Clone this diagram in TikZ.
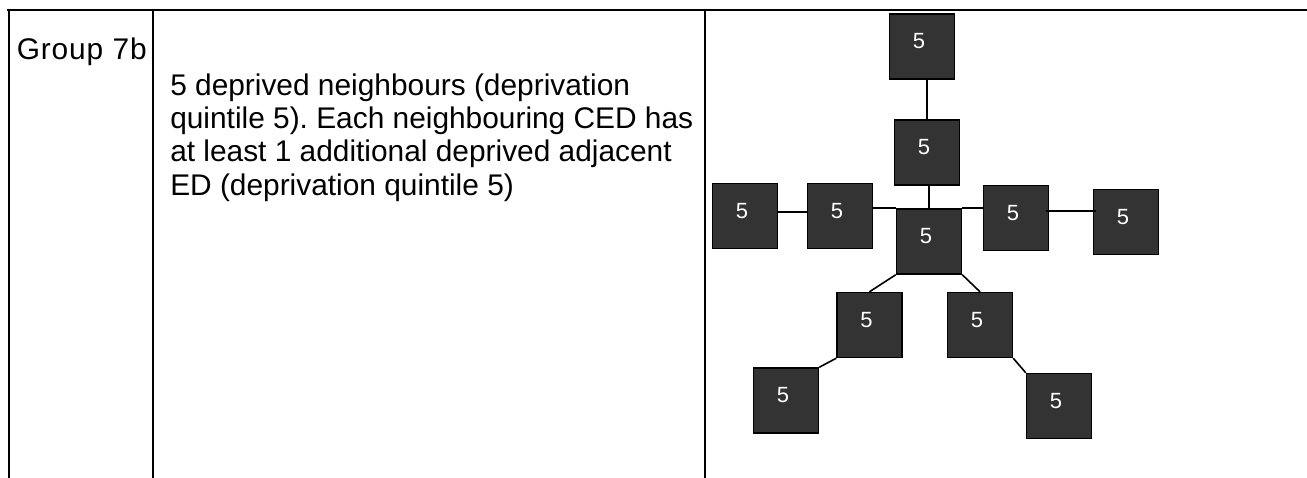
\documentclass[tikz,border=0pt]{standalone}
\usepackage{fontspec}
\setmainfont{Liberation Sans}
\usetikzlibrary{calc}
\definecolor{boxfill}{HTML}{333333}
\tikzset{
  grid/.style={line width=1.8pt, line cap=rect},
  qbox/.style={draw=black, fill=boxfill, line width=1.1pt,
    minimum width=48.75pt, minimum height=48.75pt, inner sep=0pt,
    label={[text=white, font=\fontsize{16.5}{18}\selectfont,
            xshift=-2.25pt, yshift=3.75pt, inner sep=0pt]center:5}},
  link/.style={draw=black, line width=1.2pt},
  celltext/.style={anchor=base west, inner sep=0pt,
    font=\fontsize{22.4}{25}\selectfont}
}
\begin{document}
\frenchspacing
\begin{tikzpicture}[x=0.75pt, y=-0.75pt]
  \useasboundingbox (0,0) rectangle (1307,478);

  % table rules
  \draw[grid] (8,10) -- (1307,10);
  \draw[grid] (9,10) -- (9,478);
  \draw[grid] (153,10) -- (153,478);
  \draw[grid] (705,10) -- (705,478);

  % cell texts
  \node[celltext] (grp) at (16.5,59.5) {\addfontfeature{LetterSpace=3}Group 7b};
  \node[celltext] (desc) at (170,95) {\parbox[t]{400pt}{\raggedright
    5 deprived neighbours (deprivation\\
    quintile 5). Each neighbouring CED has\\
    at least 1 additional deprived adjacent\\
    ED (deprivation quintile 5)}};

  % quintile boxes
  \node[qbox] (t2) at (922,46.5) {};
  \node[qbox] (t1) at (927,152.5) {};
  \node[qbox] (c)  at (929,241.5) {};
  \node[qbox] (l1) at (840,216) {};
  \node[qbox] (l2) at (745,216) {};
  \node[qbox] (r1) at (1016,218) {};
  \node[qbox] (r2) at (1126,222) {};
  \node[qbox] (d1) at (869.5,325) {};
  \node[qbox] (d2) at (980,325) {};
  \node[qbox] (e1) at (786,400.5) {};
  \node[qbox] (e2) at (1059,406) {};

  % adjacency links
  \draw[link] (t1.north) -- (t1.north |- t2.south);
  \draw[link] (c.north) -- (c.north |- t1.south);
  \draw[link] ($(l2.east)+(0,-4)$) coordinate (lw) -- (lw -| l1.west);
  \draw[link] (l1.east |- c.north) -- (c.north west);
  \draw[link] (c.north east) -- (r1.west |- c.north);
  \draw[link] ($(r1.east)+(-3,-7)$) coordinate (rw) -- ($(rw -| r2.west)+(3,0)$);
  \draw[link] (c.south west) -- (d1.north);
  \draw[link] (c.south east) -- (d2.north);
  \draw[link] (d1.south west) -- (e1.north east);
  \draw[link] (d2.south east) -- (e2.north west);
\end{tikzpicture}
\end{document}
